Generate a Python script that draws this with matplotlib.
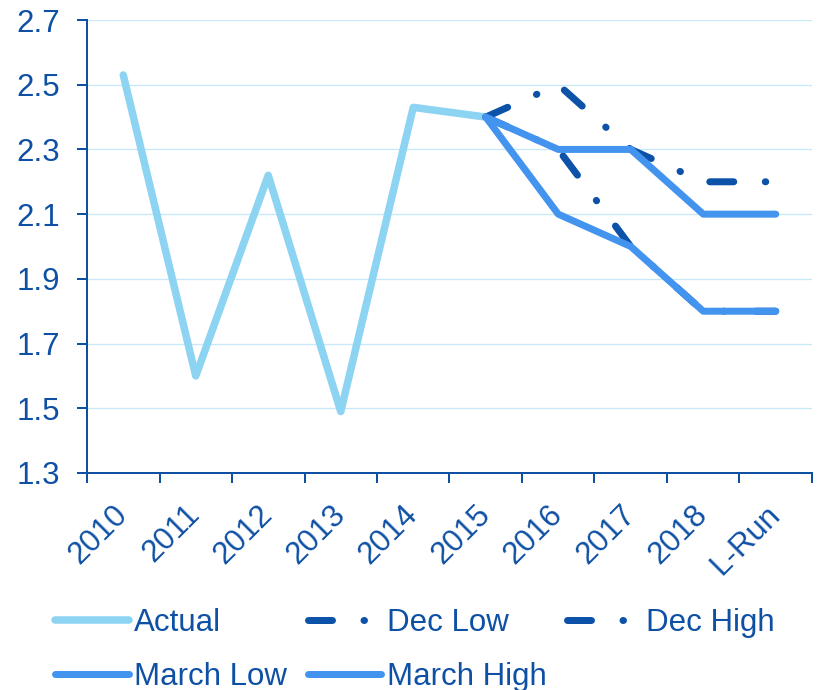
import matplotlib
matplotlib.use("Agg")
import matplotlib.pyplot as plt
import numpy as np

plt.rcParams['font.family'] = ['Liberation Sans', 'DejaVu Sans']
plt.rcParams['lines.scale_dashes'] = False

categories = ["2010", "2011", "2012", "2013", "2014", "2015", "2016", "2017", "2018", "L-Run"]
actual = [2.53, 1.60, 2.22, 1.49, 2.43, 2.40]
forecast_cats = ["2015", "2016", "2017", "2018", "L-Run"]
dec_low = [2.40, 2.30, 2.00, 1.80, 1.80]
dec_high = [2.40, 2.50, 2.30, 2.20, 2.20]
march_low = [2.40, 2.10, 2.00, 1.80, 1.80]
march_high = [2.40, 2.30, 2.30, 2.10, 2.10]
yticks = [1.3, 1.5, 1.7, 1.9, 2.1, 2.3, 2.5, 2.7]

C_ACT = "#8DD3F2"
C_DEC = "#0B52A8"
C_MAR = "#4394EF"
C_TXT = "#0E50A4"
C_GRID = "#C6E8F8"

W, H = 819, 690
fig = plt.figure(figsize=(W / 100, H / 100), dpi=100)
ax = fig.add_axes([87 / W, 1 - 473 / H, (812 - 87) / W, (473 - 20) / H])

xa = np.arange(len(actual))
idx = {c: i for i, c in enumerate(categories)}
xf = np.array([idx[c] for c in forecast_cats])

px = 0.72  # points per pixel at dpi 100
dash_pat = (0, (24 * px, 31.5 * px, 0.5 * px, 31.5 * px))

l_act, = ax.plot(xa, actual, color=C_ACT, lw=7.5 * px, solid_capstyle='round',
                 solid_joinstyle='round', label="Actual", zorder=3)
l_dl, = ax.plot(xf, dec_low, color=C_DEC, lw=7 * px, linestyle=dash_pat,
                dash_capstyle='round', dash_joinstyle='round', label="Dec Low", zorder=4)
l_dh, = ax.plot(xf, dec_high, color=C_DEC, lw=7 * px, linestyle=dash_pat,
                dash_capstyle='round', dash_joinstyle='round', label="Dec High", zorder=4)
l_ml, = ax.plot(xf, march_low, color=C_MAR, lw=7 * px, solid_capstyle='round',
                solid_joinstyle='round', label="March Low", zorder=5)
l_mh, = ax.plot(xf, march_high, color=C_MAR, lw=7 * px, solid_capstyle='round',
                solid_joinstyle='round', label="March High", zorder=5)

ax.set_xlim(-0.5, len(categories) - 0.5)
ax.set_ylim(1.3, 2.7)
ax.set_yticks(yticks)
ax.set_yticklabels([f"{v:.1f}" for v in yticks])
ax.set_xticks(np.arange(len(categories) + 1) - 0.5)
ax.set_xticklabels([])
ax.set_xticks(np.arange(len(categories)), minor=True)
ax.set_xticklabels(categories, minor=True, rotation=45, ha='right', va='center',
                   rotation_mode='anchor')

for s in ['top', 'right']:
    ax.spines[s].set_visible(False)
for s in ['left', 'bottom']:
    ax.spines[s].set_color(C_TXT)
    ax.spines[s].set_linewidth(2 * px)

ax.tick_params(axis='both', which='major', direction='out', length=10 * px,
               width=2 * px, color=C_TXT, labelcolor=C_TXT, labelsize=22.5)
ax.tick_params(axis='y', pad=12)
ax.tick_params(axis='x', which='minor', length=0, pad=27 * px + 10 * px,
               labelcolor=C_TXT, labelsize=22.5)

ax.yaxis.grid(True, color=C_GRID, lw=1.3 * px)
ax.set_axisbelow(True)

handles = [l_act, l_ml, l_dl, l_mh, l_dh]
labels = [h.get_label() for h in handles]
leg = fig.legend(handles, labels, ncol=3, loc='upper left',
                 bbox_to_anchor=(55 / W, 1 - 608 / H), frameon=False,
                 fontsize=22.5, labelcolor=C_TXT, handlelength=2.36,
                 handletextpad=0.18, columnspacing=0.65, labelspacing=0.76,
                 borderpad=0, borderaxespad=0)

fig.savefig("out.png", dpi=100)
